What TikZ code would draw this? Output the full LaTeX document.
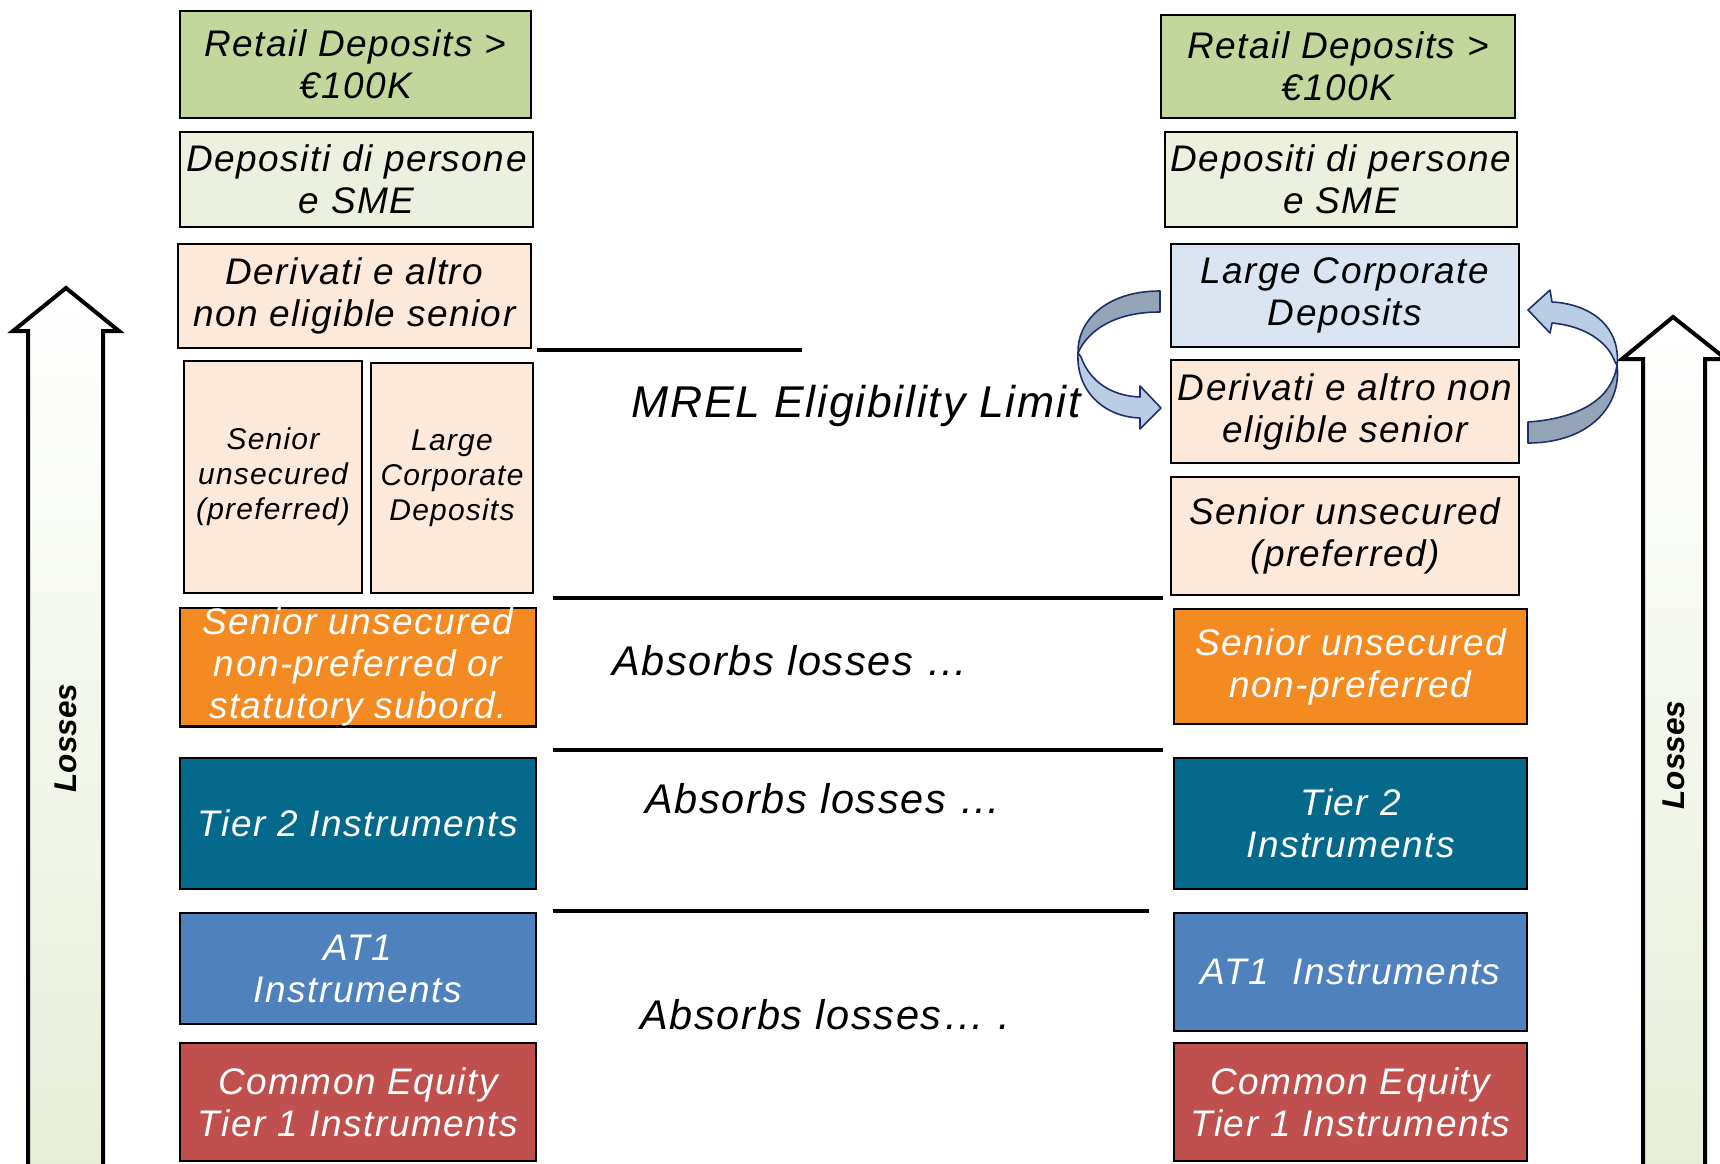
\documentclass[tikz,border=0pt]{standalone}
\usepackage{fontspec}
\setmainfont{Liberation Sans}
\newfontfamily\lsfont[LetterSpace=4]{Liberation Sans}
\definecolor{cgreen}{HTML}{C3D69B}
\definecolor{cpale}{HTML}{EBF1DE}
\definecolor{cpeach}{HTML}{FDE9D9}
\definecolor{cblue}{HTML}{DBE5F1}
\definecolor{corange}{HTML}{F38B22}
\definecolor{cteal}{HTML}{05698B}
\definecolor{cat}{HTML}{4F81BD}
\definecolor{cred}{HTML}{C0504D}
\definecolor{arrlight}{HTML}{B9CDE5}
\definecolor{arrdark}{HTML}{95A5B8}
\definecolor{arrline}{HTML}{1F2F6E}
\definecolor{lossgreen}{HTML}{E6EED8}
\begin{document}
\begin{tikzpicture}[x=1pt,y=-1pt,
  box/.style={draw=black, line width=2.5pt, rectangle, inner sep=0pt, align=center,
    font=\lsfont\itshape\fontsize{37}{42}\selectfont, text=black},
  smallbox/.style={box, font=\lsfont\itshape\fontsize{30}{35}\selectfont},
  whitetext/.style={text=white},
  midtext/.style={inner sep=0pt, font=\lsfont\itshape\fontsize{41.5}{46}\selectfont},
  sepline/.style={draw=black, line width=4.5pt},
  lossarrow/.style={draw=black, line width=4pt, line join=miter, top color=white, bottom color=lossgreen},
  losstext/.style={rotate=90, inner sep=0pt, font=\bfseries\itshape\fontsize{31.5}{34}\selectfont},
  ribbonlight/.style={fill=arrlight, draw=arrline, line width=1.6pt, line join=round},
  ribbondark/.style={fill=arrdark, draw=arrline, line width=1.6pt, line join=round}
]
\useasboundingbox[fill=white] (0,0) rectangle (1720,1163);

% Losses arrows
\path[lossarrow] (28,1175) -- (28,331) -- (13,331) -- (66,288) -- (119,331) -- (103,331) -- (103,1175) -- cycle;
\node[losstext] (lossL) at (66,738) {Losses};
\path[lossarrow] (1643,1175) -- (1643,359) -- (1622,359) -- (1673,317) -- (1726,359) -- (1705,359) -- (1705,1175) -- cycle;
\node[losstext] (lossR) at (1674,755) {Losses};

% left column
\node[box, fill=cgreen, minimum width=351pt, minimum height=107pt] (lret) at (355.5,64.5) {Retail Deposits >\\€100K};
\node[box, fill=cpale, minimum width=353pt, minimum height=95pt] (ldep) at (356.5,179.5) {Depositi di persone\\e SME};
\node[box, fill=cpeach, minimum width=353pt, minimum height=104pt] (lder) at (354.5,296) {Derivati e altro\\non eligible senior};
\node[smallbox, fill=cpeach, minimum width=178pt, minimum height=232pt] (lsen) at (273,477) {Senior\\unsecured\\(preferred)};
\node[smallbox, fill=cpeach, minimum width=162pt, minimum height=230pt] (llcd) at (452,478) {Large\\Corporate\\Deposits};
\node[box, whitetext, fill=corange, minimum width=356pt, minimum height=116pt] (lnp) at (358,667) {Senior unsecured\\non-preferred or\\statutory subord.};
\node[box, whitetext, fill=cteal, minimum width=356pt, minimum height=131pt] (lt2) at (358,823.5) {Tier 2 Instruments};
\node[box, whitetext, fill=cat, minimum width=356pt, minimum height=111pt] (lat) at (358,968.5) {AT1\\Instruments};
\node[box, whitetext, fill=cred, minimum width=356pt, minimum height=118pt] (lcet) at (358,1102) {Common Equity\\Tier 1 Instruments};

% right column
\node[box, fill=cgreen, minimum width=354pt, minimum height=103pt] (rret) at (1338,66.5) {Retail Deposits >\\€100K};
\node[box, fill=cpale, minimum width=352pt, minimum height=95pt] (rdep) at (1341,179.5) {Depositi di persone\\e SME};
\node[box, fill=cblue, minimum width=348pt, minimum height=103pt] (rlcd) at (1345,295.5) {Large Corporate\\Deposits};
\node[box, fill=cpeach, minimum width=348pt, minimum height=103pt] (rder) at (1345,411.5) {Derivati e altro non\\eligible senior};
\node[box, fill=cpeach, minimum width=348pt, minimum height=118pt] (rsen) at (1345,536) {Senior unsecured\\(preferred)};
\node[box, whitetext, fill=corange, minimum width=353pt, minimum height=115pt] (rnp) at (1350.5,666.5) {Senior unsecured\\non-preferred};
\node[box, whitetext, fill=cteal, minimum width=353pt, minimum height=131pt] (rt2) at (1350.5,823.5) {Tier 2\\Instruments};
\node[box, whitetext, fill=cat, minimum width=353pt, minimum height=118pt] (rat) at (1350.5,972) {AT1~~Instruments};
\node[box, whitetext, fill=cred, minimum width=353pt, minimum height=118pt] (rcet) at (1350.5,1102) {Common Equity\\Tier 1 Instruments};

% separator lines
\coordinate (m1) at (537,350); \coordinate (m2) at (802,350);
\coordinate (s1a) at (553,598); \coordinate (s1b) at (1163,598);
\coordinate (s2a) at (553,750); \coordinate (s2b) at (1163,750);
\coordinate (s3a) at (553,911); \coordinate (s3b) at (1149,911);
\draw[sepline] (m1) -- (m2);
\draw[sepline] (s1a) -- (s1b);
\draw[sepline] (s2a) -- (s2b);
\draw[sepline] (s3a) -- (s3b);

% middle texts
\node[midtext, font=\lsfont\itshape\fontsize{44.5}{50}\selectfont] (mrel) at (856,406) {MREL Eligibility Limit};
\node[midtext] (abs1) at (790,661) {Absorbs losses …};
\node[midtext] (abs2) at (823,799) {Absorbs losses …};
\node[midtext] (abs3) at (825,1015) {Absorbs losses… .};

% curved arrows (left)
\path[ribbondark] (1160,291) .. controls (1105,291) and (1077,322) .. (1078,353) .. controls (1088,330) and (1115,312) .. (1160,312) -- cycle;
\path[ribbonlight] (1078,353) .. controls (1076,392) and (1105,417) .. (1140,418) -- (1140,429) -- (1161,408) -- (1140,386) -- (1140,397) .. controls (1112,396) and (1090,382) .. (1081,357) -- cycle;
% curved arrows (right)
\path[ribbondark] (1528,422) .. controls (1585,418) and (1613,395) .. (1617,365) .. controls (1622,405) and (1590,443) .. (1528,443) -- cycle;
\path[ribbonlight] (1617,365) .. controls (1621,328) and (1592,304) .. (1552,302) -- (1550,290) -- (1528,310) -- (1550,333) -- (1552,323) .. controls (1585,326) and (1608,342) .. (1615,362) -- cycle;
\end{tikzpicture}
\end{document}
